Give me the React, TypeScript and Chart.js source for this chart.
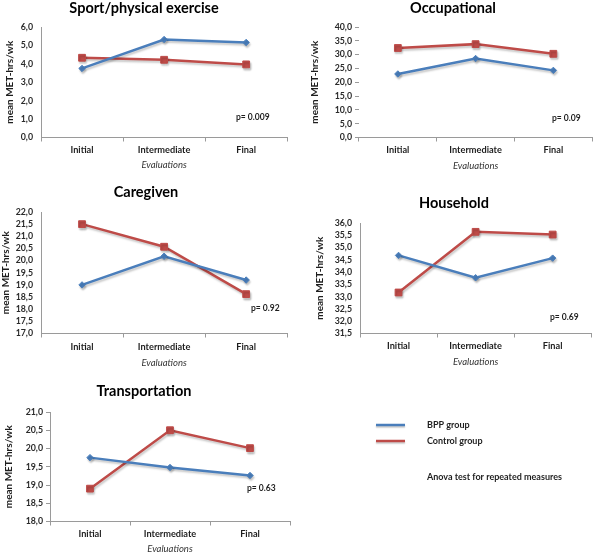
import React, { useEffect, useRef } from "react";
import { Chart, registerables } from "chart.js";

Chart.register(...registerables);

// ---------- data ----------
const categories = ["Initial", "Intermediate", "Final"];
const seriesLabels = ["BPP group", "Control group"];

const sportBPP = [3.75, 5.32, 5.16];
const sportControl = [4.33, 4.22, 3.97];
const occupationalBPP = [23.0, 28.6, 24.3];
const occupationalControl = [32.4, 33.8, 30.3];
const caregivenBPP = [19.0, 20.18, 19.2];
const caregivenControl = [21.5, 20.57, 18.62];
const householdBPP = [34.68, 33.77, 34.57];
const householdControl = [33.17, 35.64, 35.53];
const transportationBPP = [19.75, 19.48, 19.26];
const transportationControl = [18.9, 20.5, 20.01];

const panelTitles = ["Sport/physical exercise", "Occupational", "Caregiven", "Household", "Transportation"];
const pLabels = ["p= 0.009", "p= 0.09", "p= 0.92", "p= 0.69", "p= 0.63"];
const yMins = [0, 0, 17, 31.5, 18];
const yMaxs = [6, 40, 22, 36, 21];
const ySteps = [1, 5, 0.5, 0.5, 0.5];
const yAxisTitle = "mean MET-hrs/wk";
const xAxisTitle = "Evaluations";
const footnote = "Anova test for repeated measures";

const bppSeries = [sportBPP, occupationalBPP, caregivenBPP, householdBPP, transportationBPP];
const controlSeries = [sportControl, occupationalControl, caregivenControl, householdControl, transportationControl];

// ---------- styling / layout ----------
const FONT = "Lato, 'Open Sans', 'Liberation Sans', sans-serif";
const BLUE = "#4A7EBB";
const RED = "#BE4B48";
const AXIS = "#9a9a9a";
const TEXT = "#1e1e1e";

type Lay = {
  area: { l: number; r: number; t: number; b: number };
  titleX: number;
  titleY: number;
  yTitleX: number;
  catY: number;
  xTitleY: number;
  p: { x: number; y: number };
  yBorder: boolean;
  yTicks: boolean;
  extraRight?: number;
};

const layouts: Lay[] = [
  { area: { l: 41, r: 293, t: 27, b: 137 }, titleX: 144, titleY: 8, yTitleX: 10, catY: 150, xTitleY: 164, p: { x: 236, y: 117 }, yBorder: true, yTicks: false },
  { area: { l: 359, r: 598, t: 27, b: 137 }, titleX: 453, titleY: 8, yTitleX: 315, catY: 150, xTitleY: 165, p: { x: 552, y: 118 }, yBorder: false, yTicks: true },
  { area: { l: 41, r: 293, t: 212, b: 333 }, titleX: 146, titleY: 192, yTitleX: 6, catY: 347, xTitleY: 362, p: { x: 251, y: 308 }, yBorder: true, yTicks: false },
  { area: { l: 360, r: 597, t: 223, b: 333 }, titleX: 454, titleY: 203, yTitleX: 320, catY: 346, xTitleY: 361, p: { x: 550, y: 317 }, yBorder: true, yTicks: false },
  { area: { l: 50, r: 290, t: 412, b: 521 }, titleX: 144, titleY: 391, yTitleX: 9, catY: 534, xTitleY: 548, p: { x: 247, y: 488 }, yBorder: true, yTicks: true, extraRight: 310 },
];

const legendLayout = { lineX1: 376, lineX2: 405, textX: 427, rows: [425, 441], noteY: 477 };

const TITLE_SIZE = 14.5;
const TITLE_LH = 18;
const TITLE_PAD_TOP = 2;
const CAT_SIZE = 9.2;
const CAT_LH = 12;
const TICK_LEN = 4;
const XT_SIZE = 9.5;
const XT_LH = 11;
const XT_PAD_BOTTOM = 2;
const YT_SIZE = 10;
const YT_LH = 12;

function LinePanel({ index }: { index: number }) {
  const canvasRef = useRef<HTMLCanvasElement | null>(null);
  const lay = layouts[index];
  const left = 2 * lay.titleX - lay.area.r;
  const top = lay.titleY - TITLE_PAD_TOP - TITLE_LH / 2;
  const xScaleH = lay.xTitleY - lay.area.b + XT_PAD_BOTTOM + XT_LH / 2;
  const extra = lay.extraRight || 0;
  const width = Math.round(lay.area.r - left + extra);
  const height = Math.round(lay.area.b + xScaleH - top);

  useEffect(() => {
    const canvas = canvasRef.current;
    if (!canvas) return;

    const shadowPlugin = {
      id: "lineShadow",
      beforeDatasetsDraw(chart: any) {
        const ctx = chart.ctx;
        ctx.save();
        ctx.shadowColor = "rgba(0,0,0,0.22)";
        ctx.shadowBlur = 2;
        ctx.shadowOffsetX = 1;
        ctx.shadowOffsetY = 2;
      },
      afterDatasetsDraw(chart: any) {
        chart.ctx.restore();
      },
    };

    const notesPlugin = {
      id: "notes",
      afterDraw(chart: any) {
        const ctx = chart.ctx;
        ctx.save();
        ctx.fillStyle = TEXT;
        ctx.textAlign = "left";
        ctx.textBaseline = "middle";
        ctx.font = `bold 8.5px ${FONT}`;
        ctx.fillText(pLabels[index], lay.p.x - left, lay.p.y - top);
        if (index === 4) {
          ctx.font = `bold 9px ${FONT}`;
          chart.data.datasets.forEach((ds: any, i: number) => {
            const y = legendLayout.rows[i] - top;
            ctx.save();
            ctx.shadowColor = "rgba(0,0,0,0.22)";
            ctx.shadowBlur = 1.5;
            ctx.shadowOffsetY = 1.5;
            ctx.strokeStyle = ds.borderColor;
            ctx.lineWidth = 2.5;
            ctx.beginPath();
            ctx.moveTo(legendLayout.lineX1 - left, y);
            ctx.lineTo(legendLayout.lineX2 - left, y);
            ctx.stroke();
            ctx.restore();
            ctx.fillStyle = TEXT;
            ctx.fillText(ds.label, legendLayout.textX - left, y);
          });
          ctx.fillText(footnote, legendLayout.textX - left, legendLayout.noteY - top);
        }
        ctx.restore();
      },
    };

    const chart = new Chart(canvas, {
      type: "line",
      data: {
        labels: categories,
        datasets: [
          {
            label: seriesLabels[0],
            data: bppSeries[index],
            borderColor: BLUE,
            backgroundColor: BLUE,
            pointBackgroundColor: BLUE,
            pointBorderColor: BLUE,
            pointStyle: "rectRot",
            pointRadius: 3.2,
            pointBorderWidth: 1,
            borderWidth: 2.5,
            tension: 0,
          },
          {
            label: seriesLabels[1],
            data: controlSeries[index],
            borderColor: RED,
            backgroundColor: RED,
            pointBackgroundColor: RED,
            pointBorderColor: RED,
            pointStyle: "rect",
            pointRadius: 4.8,
            pointBorderWidth: 1,
            borderWidth: 2.5,
            tension: 0,
          },
        ],
      },
      options: {
        responsive: false,
        animation: false,
        devicePixelRatio: 1,
        events: [],
        layout: { padding: { left: 0, right: extra, top: 0, bottom: 0 } },
        plugins: {
          legend: { display: false },
          tooltip: { enabled: false },
          title: {
            display: true,
            text: panelTitles[index],
            color: "#000",
            font: { family: FONT, size: TITLE_SIZE, weight: "bold", lineHeight: TITLE_LH / TITLE_SIZE },
            padding: { top: TITLE_PAD_TOP, bottom: lay.area.t - top - TITLE_PAD_TOP - TITLE_LH },
          },
        },
        scales: {
          x: {
            type: "category",
            offset: true,
            grid: {
              display: true,
              drawOnChartArea: false,
              drawTicks: true,
              tickLength: TICK_LEN,
              offset: true,
              color: AXIS,
            },
            border: { display: true, color: AXIS, width: 1 },
            ticks: {
              color: TEXT,
              font: { family: FONT, size: CAT_SIZE, weight: "bold", lineHeight: CAT_LH / CAT_SIZE },
              padding: lay.catY - lay.area.b - TICK_LEN - CAT_LH / 2,
              maxRotation: 0,
              autoSkip: false,
            },
            title: {
              display: true,
              text: xAxisTitle,
              color: "#333",
              font: { family: FONT, size: XT_SIZE, style: "italic", lineHeight: XT_LH / XT_SIZE },
              padding: { top: 0, bottom: XT_PAD_BOTTOM },
            },
            afterFit: (s: any) => {
              s.height = xScaleH;
            },
          },
          y: {
            min: yMins[index],
            max: yMaxs[index],
            ticks: {
              stepSize: ySteps[index],
              autoSkip: false,
              color: "#2a2a2a",
              font: { family: FONT, size: 8.8, weight: "bold" },
              padding: lay.yTicks ? 3 : 8,
              callback: (v: any) => Number(v).toFixed(1).replace(".", ","),
            },
            grid: {
              display: true,
              drawOnChartArea: false,
              drawTicks: lay.yTicks,
              tickLength: 4,
              color: AXIS,
            },
            border: { display: lay.yBorder, color: AXIS, width: 1 },
            title: {
              display: true,
              text: yAxisTitle,
              color: TEXT,
              font: { family: FONT, size: YT_SIZE, weight: "bold", lineHeight: YT_LH / YT_SIZE },
              padding: { top: lay.yTitleX - left - YT_LH / 2, bottom: 0 },
            },
            afterFit: (s: any) => {
              s.width = lay.area.l - left;
            },
          },
        },
      } as any,
      plugins: [shadowPlugin, notesPlugin],
    });
    return () => chart.destroy();
  }, [index]);

  return (
    <canvas
      ref={canvasRef}
      width={width}
      height={height}
      style={{ position: "absolute", left, top, width, height }}
    />
  );
}

export default function App() {
  return (
    <div
      style={{
        position: "fixed",
        left: 0,
        top: 0,
        width: 600,
        height: 552,
        background: "#fff",
        overflow: "hidden",
      }}
    >
      {layouts.map((_, i) => (
        <LinePanel key={i} index={i} />
      ))}
    </div>
  );
}
